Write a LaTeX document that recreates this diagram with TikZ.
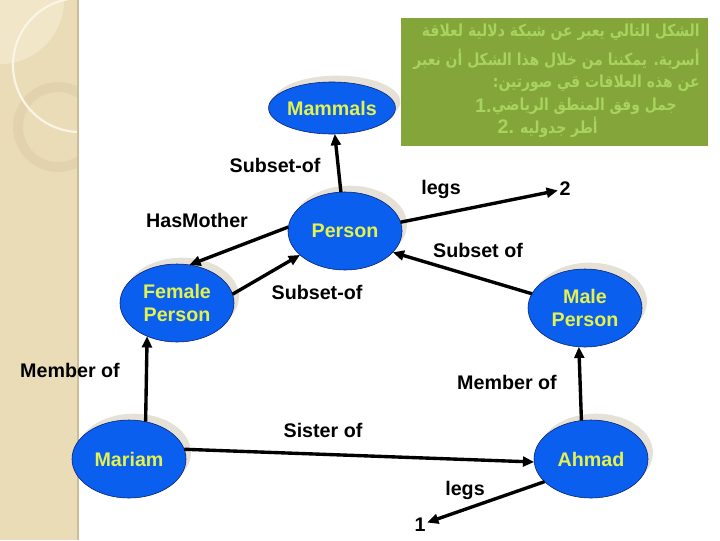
\documentclass[tikz,border=0pt]{standalone}
\usepackage{fontspec}
\setmainfont{Liberation Sans}
\newfontfamily\arabicfont[Script=Arabic,FakeStretch=0.84]{DejaVu Sans}
\TeXXeTstate=1
\usepackage{tikz}
\usetikzlibrary{arrows.meta,shapes.geometric,shadows}
\definecolor{conceptBlue}{HTML}{0B5FEE}
\definecolor{conceptEdge}{HTML}{0A1F6B}
\definecolor{conceptText}{HTML}{E4F24E}
\definecolor{shadowBeige}{HTML}{E6E1D6}
\definecolor{noteGreen}{HTML}{84A53A}
\definecolor{noteText}{HTML}{A8D35E}
\definecolor{stripBeige}{HTML}{EADCB6}
\definecolor{stripEdge}{HTML}{CDBC95}
\definecolor{stripRing}{HTML}{E2D3AE}
\definecolor{stripLight}{HTML}{F1E6C8}

\begin{document}
\begin{tikzpicture}[x=0.025cm,y=-0.025cm,
  concept/.style={ellipse,draw=conceptEdge,fill=conceptBlue,text=conceptText,
    font=\fontsize{14}{17}\selectfont\bfseries,align=center,
    minimum width=2.85cm,minimum height=1.95cm,inner sep=0pt,outer sep=0pt,
    drop shadow={shadow xshift=3.5pt,shadow yshift=4.5pt,fill=shadowBeige,opacity=1}},
  relation/.style={font=\fontsize{14}{16}\selectfont\bfseries,inner sep=1pt},
  link/.style={line width=2.4pt,-{Triangle[length=8pt,width=7pt]}},
  arabicLine/.style={anchor=east,text=noteText,inner sep=0pt,
    font=\arabicfont\bfseries\fontsize{11.8}{13}\selectfont},
  noteNumber/.style={anchor=east,text=noteText,inner sep=0pt,
    font=\fontsize{14}{16}\selectfont\bfseries}]
\useasboundingbox (0,0) rectangle (720,540);
\fill[white] (0,0) rectangle (720,540);
\begin{scope}
  \clip (0,0) rectangle (78,540);
  \fill[stripBeige] (0,0) rectangle (78,540);
  \fill[stripLight] (0,0) circle (64);
  \draw[stripRing,line width=7pt] (58,127) circle (40);
  \draw[white!70!stripBeige,line width=1.5pt] (80,65) circle (67);
\end{scope}
\draw[stripEdge,line width=1pt] (78,0) -- (78,540);

\fill[noteGreen] (401,18) rectangle (708,146);
\node[arabicLine] (noteA) at (700,32) {\beginR الشكل التالي يعبر عن شبكة دلالية لعلاقة\endR};
\node[arabicLine] (noteB) at (700,59) {\beginR أسرية. يمكننا من خلال هذا الشكل أن نعبر\endR};
\node[arabicLine] (noteC) at (700,83) {\beginR عن هذه العلاقات قي صورتين:\endR};
\node[arabicLine] (noteD) at (677,106) {\beginR جمل وفق المنطق الرياضي\endR};
\node[noteNumber] (numD) at (noteD.west) {1.};
\node[arabicLine] (noteE) at (598,127) {\beginR أطر جدوليه\endR};
\node[noteNumber] (numE) at ([xshift=-4pt]noteE.west) {2.};

\node[concept,minimum width=2.78cm,minimum height=1.3cm] (mammals) at (332,108) {Mammals};
\node[concept] (person) at (345,231) {Person};
\node[concept] (female) at (177,303) {Female\\Person};
\node[concept] (male) at (585,308) {Male\\Person};
\node[concept] (mariam) at (129,459) {Mariam};
\node[concept] (ahmad) at (591,459) {Ahmad};

\node[relation] (subsetTop) at (275,165) {Subset-of};
\node[relation] (hasMother) at (197,220) {HasMother};
\node[relation] (legsTop) at (441,189) {legs};
\node[relation] (two) at (565,189) {2};
\node[relation] (subsetRight) at (478,250) {Subset of};
\node[relation] (subsetLeft) at (317,292) {Subset-of};
\node[relation] (memberLeft) at (70,370) {Member of};
\node[relation] (memberRight) at (507,382) {Member of};
\node[relation] (sisterOf) at (323,430) {Sister of};
\node[relation] (legsBottom) at (465,490) {legs};
\node[relation] (one) at (420,525) {1};

\draw[link] (person) -- (mammals);
\draw[link] (person.176) -- (female.72);
\draw[link] (female.9) -- (person.208);
\draw[link] (person.9) -- (two);
\draw[link] (male.165) -- (person.336);
\draw[link] (mariam.66) -- (female.228);
\draw[link] (ahmad.104) -- (male.261);
\draw[link] (mariam.10) -- (ahmad.183);
\draw[link] (ahmad.206) -- (one);
\end{tikzpicture}
\end{document}
